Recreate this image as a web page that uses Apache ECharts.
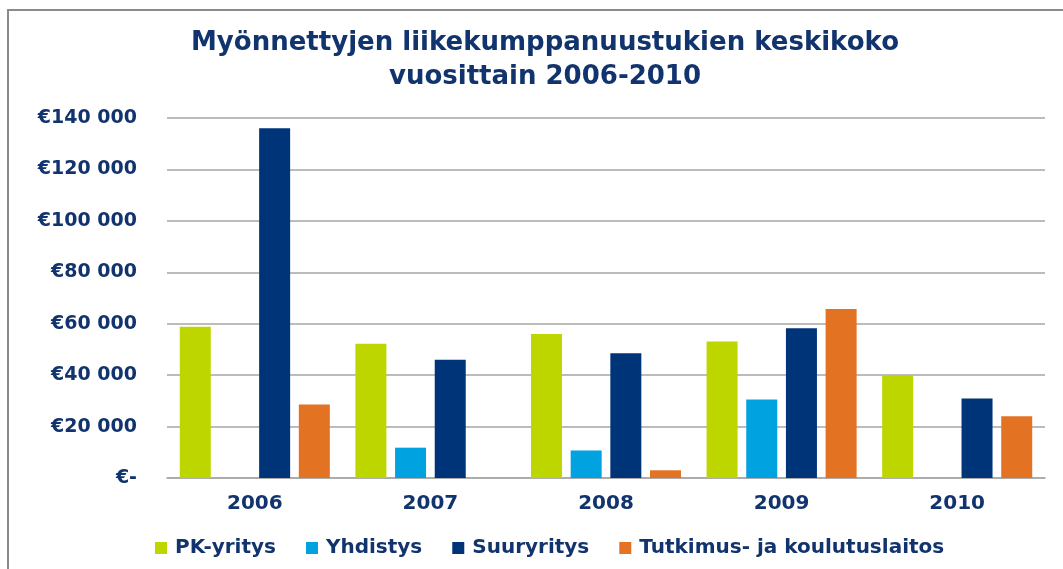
<!DOCTYPE html>
<html>
<head>
<meta charset="utf-8">
<script src="https://cdn.jsdelivr.net/npm/echarts@6/dist/echarts.min.js"></script>
<style>
html,body{margin:0;padding:0;background:#fff;}
#chart{width:1063px;height:569px;}
</style>
</head>
<body>
<div id="chart"></div>
<script>
const categories = ['2006', '2007', '2008', '2009', '2010'];
const seriesNames = ['PK-yritys', 'Yhdistys', 'Suuryritys', 'Tutkimus- ja koulutuslaitos'];
const pkYritys = [58800, 52200, 56000, 53100, 40000];
const yhdistys = [null, 11800, 10700, 30500, null];
const suuryritys = [136000, 46000, 48500, 58200, 30900];
const tutkimus = [28600, null, 3000, 65700, 24000];
const colors = ['#BED600', '#00A3E0', '#003479', '#E37222'];
const yTicks = [0, 20000, 40000, 60000, 80000, 100000, 120000, 140000];

const navy = '#12346e';
const font = 'DejaVu Sans';

function fmt(v) {
  if (v === 0) return '€-';
  const s = String(v);
  return '€' + s.replace(/\B(?=(\d{3})+(?!\d))/g, ' ');
}

const chart = echarts.init(document.getElementById('chart'), null, {renderer: 'canvas'});
const data = [pkYritys, yhdistys, suuryritys, tutkimus];
chart.setOption({
  animation: false,
  backgroundColor: '#fff',
  title: {
    text: 'Myönnettyjen liikekumppanuustukien keskikoko\nvuosittain 2006-2010',
    left: 540, top: 21, textAlign: 'center',
    textStyle: {fontFamily: font, fontWeight: 'bold', fontSize: 26, color: '#12346e', lineHeight: 34}
  },
  graphic: [{
    type: 'rect', shape: {x: 8, y: 10, width: 1080, height: 600},
    style: {fill: 'none', stroke: '#8a8a8a', lineWidth: 2}, silent: true
  }],
  legend: {
    bottom: 6, left: 150, itemWidth: 12, itemHeight: 12, itemGap: 30,
    icon: 'rect',
    textStyle: {fontFamily: font, fontWeight: 'bold', fontSize: 20, color: navy, padding: [0, 0, 0, 3]},
    data: seriesNames
  },
  grid: {left: 167, right: 18, top: 118, bottom: 91},
  xAxis: {
    type: 'category', data: categories,
    axisLine: {lineStyle: {color: '#a6a6a6', width: 1.5}},
    axisTick: {show: false},
    axisLabel: {fontFamily: font, fontWeight: 'bold', fontSize: 20, color: navy, margin: 16}
  },
  yAxis: {
    type: 'value', min: 0, max: yTicks[yTicks.length - 1], interval: 20000,
    axisLine: {show: false}, axisTick: {show: false},
    splitLine: {lineStyle: {color: '#a6a6a6', width: 1.5}},
    axisLabel: {fontFamily: font, fontWeight: 'bold', fontSize: 19, color: navy, margin: 30, formatter: fmt}
  },
  series: seriesNames.map((n, i) => ({
    name: n, type: 'bar', data: data[i], barWidth: 31, barGap: '28%',
    itemStyle: {color: colors[i]}
  }))
});
</script>
</body>
</html>
